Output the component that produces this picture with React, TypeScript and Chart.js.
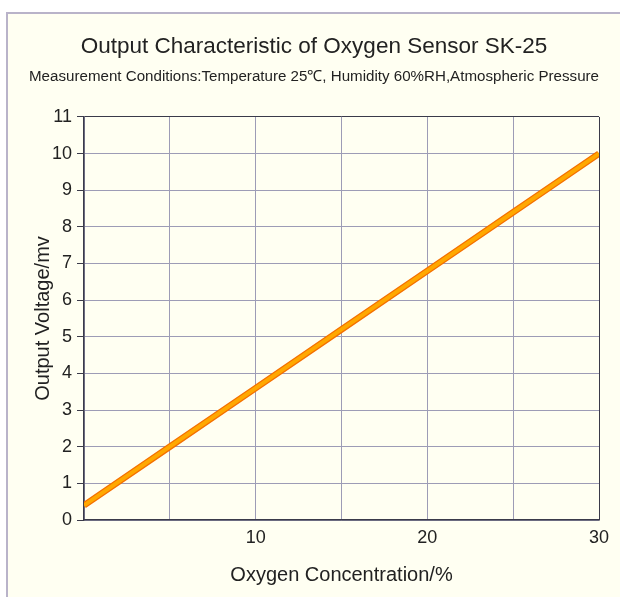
import React, { useEffect, useRef } from "react";
import { Chart, registerables } from "chart.js";

Chart.register(...registerables);

const oxygenPct = [0, 5, 10, 15, 20, 25, 30];
const outputMv = [0.4, 2.0, 3.6, 5.2, 6.8, 8.4, 10.0];
const xLabeledTicks = [10, 20, 30];

const titleText = "Output Characteristic of Oxygen Sensor SK-25";
const subtitleText =
  "Measurement Conditions:Temperature 25\u2103, Humidity 60%RH,Atmospheric Pressure";
const xTitle = "Oxygen Concentration/%";
const yTitle = "Output Voltage/mv";

const FONT = "'Liberation Sans', Arial, Helvetica, sans-serif";
const DARK = "#3a3a4a";
const LIGHT = "#9d9cb6";
const TEXT = "#222222";
const CREAM = "#fffff2";

export default function App() {
  const ref = useRef<HTMLCanvasElement | null>(null);

  useEffect(() => {
    if (!ref.current) return;
    const pts = oxygenPct.map((x, i) => ({ x, y: outputMv[i] }));
    const chart = new Chart(ref.current, {
      type: "line",
      data: {
        datasets: [
          {
            data: pts,
            borderColor: "#ffa800",
            borderWidth: 4,
            pointRadius: 0,
            tension: 0,
            clip: 0,
          },
          {
            data: pts,
            borderColor: "#f47000",
            borderWidth: 6.5,
            pointRadius: 0,
            tension: 0,
            clip: 0,
          },
        ],
      },
      options: {
        animation: false,
        responsive: false,
        devicePixelRatio: 1,
        events: [],
        layout: { padding: { left: 29, right: 21, top: 0, bottom: 0 } },
        plugins: {
          legend: { display: false },
          tooltip: { enabled: false },
          title: {
            display: true,
            text: titleText,
            color: TEXT,
            font: { family: FONT, size: 22.5, weight: "normal", lineHeight: 1.2 },
            padding: { top: 33, bottom: 0 },
          },
          subtitle: {
            display: true,
            text: subtitleText,
            color: TEXT,
            font: { family: FONT, size: 15.3, weight: "normal", lineHeight: 1.2 },
            padding: { top: 8, bottom: 30.6 },
          },
        },
        scales: {
          x: {
            type: "linear",
            min: 0,
            max: 30,
            afterFit: (s: any) => {
              s.height = 77;
            },
            ticks: {
              stepSize: 5,
              autoSkip: false,
              maxRotation: 0,
              padding: 7,
              color: TEXT,
              font: { family: FONT, size: 18 },
              callback: (v: any) => (xLabeledTicks.includes(Number(v)) ? String(v) : ""),
            },
            grid: {
              drawTicks: false,
              color: (c: any) => (c.tick && c.tick.value === 30 ? DARK : LIGHT),
              lineWidth: 1,
            },
            border: { color: DARK, width: 1.5 },
            title: {
              display: true,
              text: xTitle,
              color: TEXT,
              font: { family: FONT, size: 20, lineHeight: 1.2 },
              padding: { top: 0, bottom: 10 },
            },
          },
          y: {
            type: "linear",
            min: 0,
            max: 11,
            afterFit: (s: any) => {
              s.width = 55;
            },
            ticks: {
              stepSize: 1,
              autoSkip: false,
              padding: 5,
              color: TEXT,
              font: { family: FONT, size: 18 },
            },
            grid: {
              drawTicks: true,
              tickLength: 7,
              tickColor: DARK,
              color: (c: any) => (c.tick && c.tick.value === 11 ? DARK : LIGHT),
              lineWidth: 1,
            },
            border: { color: DARK, width: 1.5 },
            title: {
              display: true,
              text: yTitle,
              color: TEXT,
              font: { family: FONT, size: 20, lineHeight: 1.2 },
              padding: { top: 2, bottom: 0 },
            },
          },
        },
      },
    });
    return () => chart.destroy();
  }, []);

  return (
    <div
      style={{
        position: "absolute",
        left: 0,
        top: 0,
        width: 620,
        height: 597,
        background: "#ffffff",
        overflow: "hidden",
      }}
    >
      <div
        style={{
          position: "absolute",
          left: 6,
          top: 12,
          right: 0,
          bottom: 0,
          borderLeft: "2px solid #b9b3c9",
          borderTop: "2px solid #b9b3c9",
          background: CREAM,
        }}
      />
      <canvas
        ref={ref}
        width={620}
        height={597}
        style={{ position: "absolute", left: 0, top: 0, width: 620, height: 597 }}
      />
    </div>
  );
}
